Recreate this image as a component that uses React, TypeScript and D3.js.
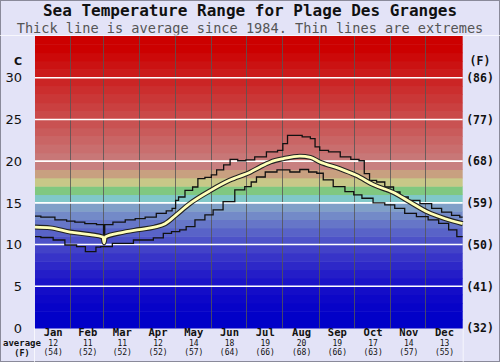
import React from 'react'
import * as d3 from 'd3'

// month labels and averages shown under the chart
const months = ['Jan', 'Feb', 'Mar', 'Apr', 'May', 'Jun', 'Jul', 'Aug', 'Sep', 'Oct', 'Nov', 'Dec']
const monthStartDays = [0, 31, 59, 90, 120, 151, 181, 212, 243, 273, 304, 334, 365]
const avgC = [12, 11, 11, 12, 14, 18, 19, 20, 19, 17, 14, 13]
const avgF = [54, 52, 52, 52, 57, 64, 66, 68, 66, 63, 57, 55]

const yTicks = [0, 5, 10, 15, 20, 25, 30]
const yTicksF = ['(32)', '(41)', '(50)', '(59)', '(68)', '(77)', '(86)']

// average (thick line), day of year -> C
const avgDays = [0, 13, 30, 47, 58, 59, 60, 73, 89, 102, 111, 120, 132, 150, 166, 184, 192, 201, 212, 226, 235, 243, 260, 274, 290, 305, 320, 335, 350, 365]
const avgTemps = [12.1, 12.0, 11.5, 11.2, 10.9, 10.2, 10.9, 11.4, 11.8, 12.1, 12.5, 13.5, 14.9, 16.5, 17.7, 18.7, 19.3, 19.9, 20.3, 20.6, 20.45, 19.9, 19.1, 18.3, 17.1, 16.3, 15.1, 13.9, 13.1, 12.5]

// extremes (thin lines)
const maxDays = [0, 10, 24, 30, 38, 47, 58, 59, 60, 73, 81, 90, 98, 109, 115, 119, 121, 124, 132, 137, 141, 149, 152, 158, 164, 169, 177, 183, 192, 203, 211, 212, 219, 224, 232, 238, 240, 246, 255, 266, 273, 280, 282, 289, 294, 303, 309, 314, 323, 334, 343, 351, 360, 365]
const maxTemps = [13.4, 13.3, 12.95, 12.8, 12.7, 12.5, 12.4, 10.2, 12.4, 12.7, 12.95, 13.1, 13.3, 13.75, 14.05, 14.35, 15.3, 15.7, 16.5, 16.9, 17.9, 18.05, 18.35, 18.95, 19.55, 20.2, 20.05, 20.15, 20.5, 21.1, 21.3, 22.1, 23.1, 23.1, 22.9, 22.7, 21.7, 21.3, 21.1, 20.5, 20.2, 20.05, 18.5, 17.7, 17.5, 16.9, 16.3, 15.7, 15.3, 14.9, 14.35, 13.9, 13.5, 13.3]
const minDays = [0, 10, 21, 30, 41, 45, 51, 53, 59, 73, 95, 107, 112, 121, 126, 132, 141, 149, 155, 166, 175, 183, 186, 192, 201, 212, 223, 229, 238, 243, 249, 260, 269, 275, 283, 294, 303, 311, 320, 331, 340, 349, 357, 363, 365]
const minTemps = [10.95, 10.85, 10.55, 9.95, 9.75, 9.15, 9.15, 9.7, 9.75, 10.15, 10.55, 10.8, 11.35, 11.55, 11.75, 12.15, 12.95, 13.55, 14.15, 15.15, 16.55, 16.95, 17.5, 18.1, 18.7, 18.95, 18.7, 19.0, 18.7, 18.55, 17.75, 16.95, 16.35, 15.95, 15.55, 15.0, 14.75, 14.35, 13.75, 13.35, 12.95, 12.55, 11.75, 10.95, 10.95]

const W = 500
const H = 362
const left = 35
const right = 462.7
const top = 36
const bottom = 328

const bandColor = (t: number) => {
  if (t === 15) return '#80c8c8'
  if (t === 16) return '#80c880'
  if (t === 17) return '#c8c888'
  if (t === 18) return '#c8a080'
  if (t >= 19) return d3.interpolateRgb('#c88080', '#cc0000')(Math.min(1, (t - 19) / 14))
  const f = t / 14
  return d3.rgb(128 * Math.pow(f, 1.5), 160 * f * f, 200).formatHex()
}

export default function App() {
  const x = d3.scaleLinear().domain([0, 365]).range([left, right])
  const y = d3.scaleLinear().domain([0, 35]).range([bottom, top])

  const avgLine = d3
    .line<number>()
    .x((d, i) => x(avgDays[i]))
    .y(d => y(d))
    .curve(d3.curveMonotoneX)
  const maxLine = d3
    .line<number>()
    .x((d, i) => x(maxDays[i]))
    .y(d => y(d))
    .curve(d3.curveStep)
  const minLine = d3
    .line<number>()
    .x((d, i) => x(minDays[i]))
    .y(d => y(d))
    .curve(d3.curveStep)

  const bands = d3.range(0, 35)
  const mono = '"DejaVu Sans Mono", monospace'
  const sans = '"DejaVu Sans", sans-serif'

  return (
    <svg
      width={W}
      height={H}
      style={{ position: 'absolute', left: 0, top: 0, display: 'block' }}
    >
      <rect x={0.5} y={0.5} width={W - 1} height={H - 1} fill="#e3e3f7" stroke="#8a8a9a" />

      {/* titles */}
      <text x={W / 2} y={16} textAnchor="middle" fontFamily={mono} fontWeight="bold" fontSize={16} fill="#111">
        Sea Temperature Range for Plage Des Granges
      </text>
      <text x={W / 2} y={32.6} textAnchor="middle" fontFamily={mono} fontSize={13.6} fill="#555">
        Thick line is average since 1984. Thin lines are extremes
      </text>
      <line x1={0} x2={W} y1={35.5} y2={35.5} stroke="#fff" strokeOpacity={0.7} />
      <line x1={left - 0.5} x2={left - 0.5} y1={bottom} y2={H} stroke="#fff" strokeOpacity={0.7} />
      <line x1={right + 0.5} x2={right + 0.5} y1={bottom} y2={H} stroke="#fff" strokeOpacity={0.7} />

      {/* colour bands */}
      {bands.map(t => (
        <rect
          key={t}
          x={left}
          y={y(t + 1)}
          width={right - left}
          height={y(t) - y(t + 1) + 0.5}
          fill={bandColor(t)}
        />
      ))}

      {/* month dividers */}
      {monthStartDays.slice(1, 12).map(d => (
        <line key={d} x1={Math.round(x(d)) - 0.5} x2={Math.round(x(d)) - 0.5} y1={top} y2={bottom} stroke="#555" strokeOpacity={0.8} />
      ))}

      {/* gridlines */}
      {yTicks.slice(1).map(t => (
        <line key={t} x1={left} x2={right} y1={y(t)} y2={y(t)} stroke="#fff" strokeWidth={1.6} />
      ))}

      {/* extremes */}
      <path d={maxLine(maxTemps) ?? ''} fill="none" stroke="#111" strokeWidth={1.3} />
      <path d={minLine(minTemps) ?? ''} fill="none" stroke="#111" strokeWidth={1.3} />

      {/* average */}
      <path d={avgLine(avgTemps) ?? ''} fill="none" stroke="#222" strokeWidth={5} strokeLinejoin="round" />
      <path d={avgLine(avgTemps) ?? ''} fill="none" stroke="#ffffb8" strokeWidth={2.8} strokeLinejoin="round" />

      {/* y axis labels */}
      <text x={22} y={65} textAnchor="end" fontFamily={sans} fontWeight="bold" fontSize={11} fill="#111">C</text>
      <text x={480} y={65} textAnchor="middle" fontFamily={mono} fontWeight="bold" fontSize={11.5} fill="#111">(F)</text>
      {yTicks.map((t, i) => (
        <g key={t}>
          <text x={22} y={y(t) + 4.7} textAnchor="end" fontFamily={sans} fontSize={13} fill="#111">
            {t}
          </text>
          <text x={480} y={y(t) + 4.3} textAnchor="middle" fontFamily={mono} fontWeight="bold" fontSize={11.5} fill="#111">
            {yTicksF[i]}
          </text>
        </g>
      ))}

      {/* month labels and averages */}
      {months.map((m, i) => {
        const cx = x((monthStartDays[i] + monthStartDays[i + 1]) / 2)
        return (
          <g key={m}>
            <text x={cx} y={336} textAnchor="middle" fontFamily={mono} fontWeight="bold" fontSize={10.5} fill="#111">
              {m}
            </text>
            <text x={cx} y={346} textAnchor="middle" fontFamily={mono} fontSize={8} fill="#111">
              {avgC[i]}
            </text>
            <text x={cx} y={355.4} textAnchor="middle" fontFamily={mono} fontSize={8} fill="#111">
              ({avgF[i]})
            </text>
          </g>
        )
      })}
      <text x={22} y={345.5} textAnchor="middle" fontFamily={mono} fontWeight="bold" fontSize={9} fill="#111">average</text>
      <text x={22} y={355.5} textAnchor="middle" fontFamily={mono} fontWeight="bold" fontSize={8.5} fill="#111">(F)</text>
    </svg>
  )
}
